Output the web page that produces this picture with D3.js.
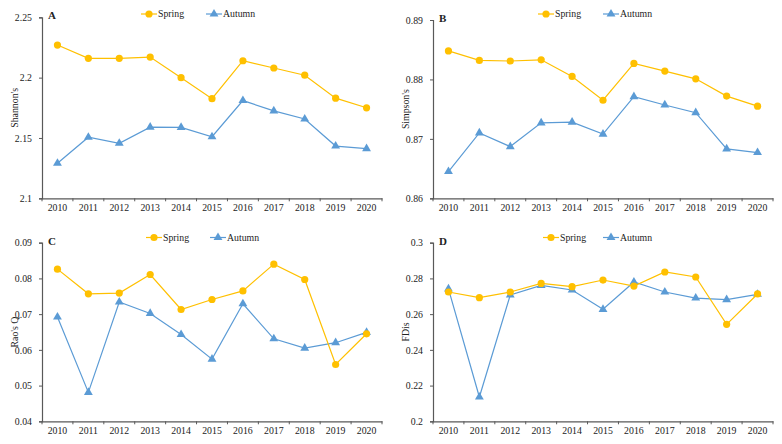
<!DOCTYPE html>
<html><head><meta charset="utf-8">
<script src="https://cdn.jsdelivr.net/npm/d3@7/dist/d3.min.js"></script>
<style>body{margin:0;background:#fff}svg{display:block}text{font-family:"Liberation Serif","Times New Roman",serif;}</style>
</head><body><svg id="c" width="782" height="444"></svg>
<script>
const years = ["2010","2011","2012","2013","2014","2015","2016","2017","2018","2019","2020"];
const seriesNames = ["Spring","Autumn"];
const shannonSpring = [2.227,2.216,2.216,2.217,2.200,2.1826,2.214,2.208,2.202,2.183,2.175];
const shannonAutumn = [2.129,2.1506,2.1456,2.159,2.1588,2.151,2.181,2.1724,2.1657,2.1433,2.1411];
const simpsonSpring = [0.8848,0.8832,0.8831,0.8833,0.8805,0.8765,0.8827,0.8814,0.8801,0.8772,0.8755];
const simpsonAutumn = [0.8645,0.8710,0.8687,0.8727,0.8728,0.8708,0.8771,0.8757,0.8744,0.8683,0.8677];
const raoSpring = [0.0826,0.0757,0.0759,0.0811,0.0713,0.0741,0.0765,0.0840,0.0797,0.0559,0.0645];
const raoAutumn = [0.0692,0.0481,0.0734,0.0702,0.0643,0.0574,0.0729,0.0631,0.0605,0.0620,0.0649];
const fdisSpring = [0.2724,0.2692,0.2724,0.2772,0.2754,0.2791,0.2757,0.2836,0.2808,0.2543,0.2713];
const fdisAutumn = [0.2741,0.2136,0.2707,0.2761,0.2735,0.2627,0.2780,0.2724,0.2690,0.2681,0.2711];
const shannonTicks = [2.1,2.15,2.2,2.25];
const simpsonTicks = [0.86,0.87,0.88,0.89];
const raoTicks = [0.04,0.05,0.06,0.07,0.08,0.09];
const fdisTicks = [0.2,0.22,0.24,0.26,0.28,0.3];

const springColor = "#FFC000", autumnColor = "#5B9BD5", axisColor = "#595959";
const FS = 9.8;
const svg = d3.select("#c");

function panel(cfg){
  const g = svg.append("g");
  const x = d3.scaleBand().domain(years).range([cfg.left, cfg.right]);
  const y = d3.scaleLinear().domain(d3.extent(cfg.ticks)).range([cfg.bottom, cfg.top]);
  const ya = g.append("g").attr("transform",`translate(${cfg.left},0)`)
    .call(d3.axisLeft(y).tickValues(cfg.ticks).tickSize(3).tickPadding(7).tickFormat(d=>String(+d.toFixed(4))));
  ya.select(".domain").attr("stroke",axisColor).attr("stroke-width",1.2);
  ya.selectAll(".tick line").attr("stroke",axisColor);
  ya.selectAll(".tick text").attr("font-size",FS).attr("fill","#222").attr("font-family","Liberation Serif");
  const xa = g.append("g").attr("transform",`translate(0,${cfg.bottom})`)
    .call(d3.axisBottom(x).tickSize(0).tickPadding(6));
  xa.select(".domain").attr("stroke",axisColor).attr("stroke-width",1.2);
  xa.selectAll(".tick text").attr("font-size",FS).attr("fill","#222").attr("font-family","Liberation Serif");
  const bounds = years.map(d=>x(d)).concat([x(years[years.length-1])+x.bandwidth()]);
  g.selectAll(".xt").data(bounds).enter().append("line")
    .attr("x1",d=>d).attr("x2",d=>d).attr("y1",cfg.bottom).attr("y2",cfg.bottom+3)
    .attr("stroke",axisColor);
  g.append("text").attr("transform",`translate(${cfg.left-24},${(cfg.top+cfg.bottom)/2}) rotate(-90)`)
    .attr("text-anchor","middle").attr("font-size",FS).attr("fill","#222").text(cfg.title);
  g.append("text").attr("x",cfg.left+6).attr("y",cfg.top+2).attr("font-size",11).attr("font-weight","bold").attr("fill","#222").text(cfg.letter);
  const cx = d=>x(d)+x.bandwidth()/2;
  const line = d3.line().x((d,i)=>cx(years[i])).y(d=>y(d));
  const tri = d3.symbol().type(d3.symbolTriangle).size(34);
  g.append("path").datum(cfg.autumn).attr("d",line).attr("fill","none").attr("stroke",autumnColor).attr("stroke-width",1.2);
  g.selectAll(".at").data(cfg.autumn).enter().append("path")
    .attr("d",tri).attr("transform",(d,i)=>`translate(${cx(years[i])},${y(d)})`).attr("fill",autumnColor);
  g.append("path").datum(cfg.spring).attr("d",line).attr("fill","none").attr("stroke",springColor).attr("stroke-width",1.2);
  g.selectAll(".sp").data(cfg.spring).enter().append("circle")
    .attr("cx",(d,i)=>cx(years[i])).attr("cy",d=>y(d)).attr("r",3.6).attr("fill",springColor);
  const ly = cfg.legY;
  const lg = g.append("g");
  lg.append("line").attr("x1",cfg.legX-8).attr("x2",cfg.legX+8).attr("y1",ly).attr("y2",ly).attr("stroke",springColor).attr("stroke-width",1.2);
  lg.append("circle").attr("cx",cfg.legX).attr("cy",ly).attr("r",3.6).attr("fill",springColor);
  lg.append("text").attr("x",cfg.legX+9).attr("y",ly+3.4).attr("font-size",FS).attr("fill","#222").text(seriesNames[0]);
  const ax = cfg.legX2;
  lg.append("line").attr("x1",ax-8).attr("x2",ax+8).attr("y1",ly).attr("y2",ly).attr("stroke",autumnColor).attr("stroke-width",1.2);
  lg.append("path").attr("d",tri).attr("transform",`translate(${ax},${ly})`).attr("fill",autumnColor);
  lg.append("text").attr("x",ax+9).attr("y",ly+3.4).attr("font-size",FS).attr("fill","#222").text(seriesNames[1]);
}

panel({left:42,right:382,top:17.3,bottom:198.3,ticks:shannonTicks,spring:shannonSpring,autumn:shannonAutumn,title:"Shannon's",letter:"A",legX:149,legX2:214,legY:14});
panel({left:433,right:773,top:20,bottom:198.3,ticks:simpsonTicks,spring:simpsonSpring,autumn:simpsonAutumn,title:"Simpson's",letter:"B",legX:546,legX2:611,legY:14});
panel({left:42,right:382,top:242.7,bottom:421.3,ticks:raoTicks,spring:raoSpring,autumn:raoAutumn,title:"Rao's Q",letter:"C",legX:154,legX2:218,legY:237.5});
panel({left:433,right:773,top:242.7,bottom:421.3,ticks:fdisTicks,spring:fdisSpring,autumn:fdisAutumn,title:"FDis",letter:"D",legX:551,legX2:611,legY:237.5});
</script></body></html>
